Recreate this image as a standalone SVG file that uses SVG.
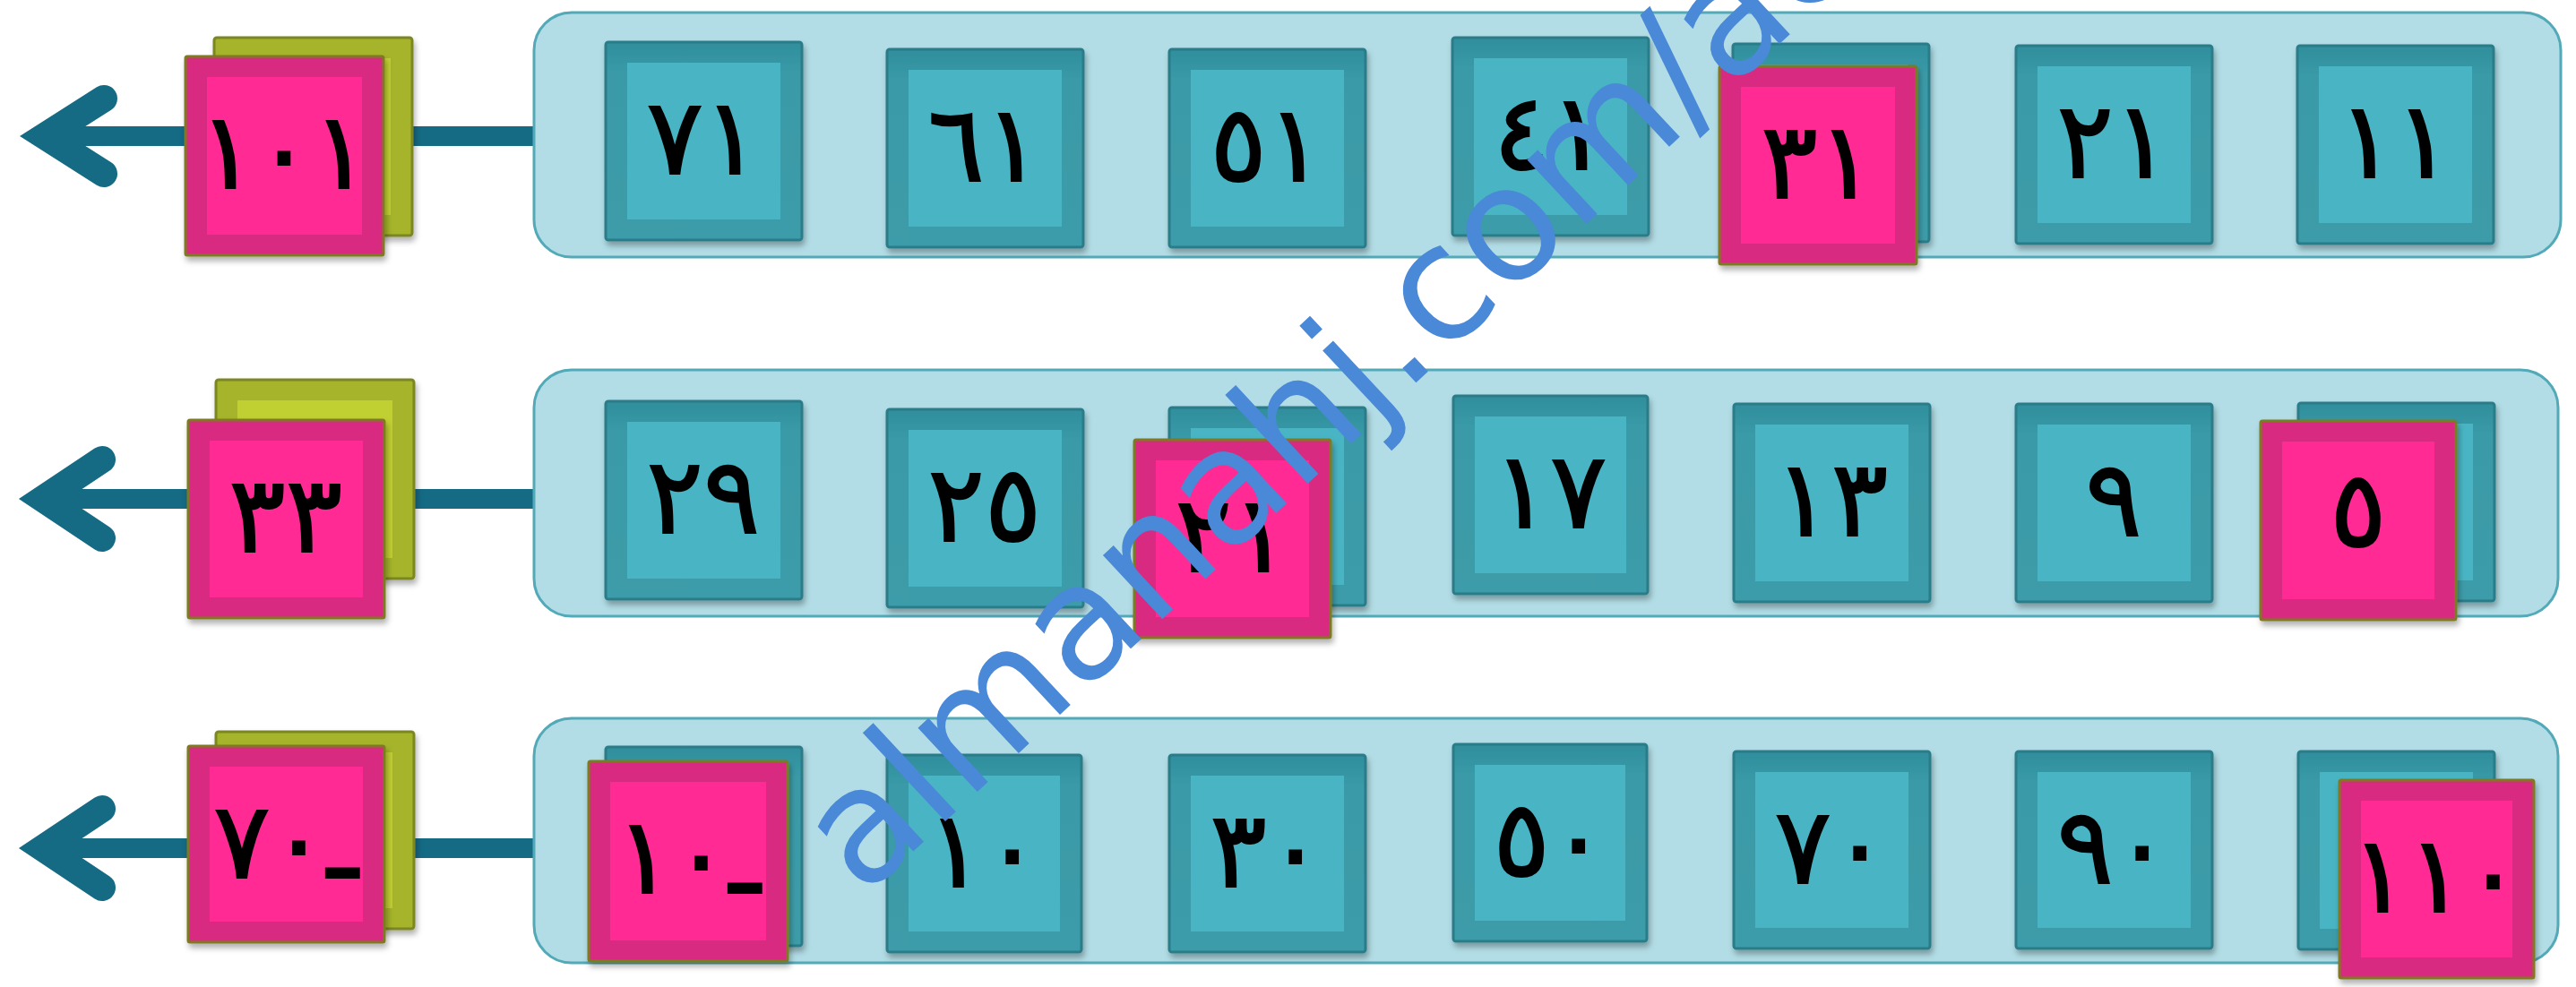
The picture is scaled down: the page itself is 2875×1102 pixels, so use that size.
<svg xmlns="http://www.w3.org/2000/svg" width="2875" height="1102" viewBox="0 0 2875 1102">
<style>
.band{fill:#b2dde6;stroke:#52a9b8;stroke-width:3}
.tf{fill:url(#tg);stroke:#2a7b88;stroke-width:3}
.ti{fill:#48b4c3}
.pf{fill:#d92b81;stroke:#7d7a20;stroke-width:3}
.pi{fill:#ff2c93}
.of{fill:#a5b42b;stroke:#7b8621;stroke-width:3}
.oi{fill:#c0cf30}
.num{font-family:"DejaVu Sans",sans-serif;font-weight:normal;font-size:118px;text-anchor:middle;fill:#000;stroke:#000;stroke-width:2}
.neg{unicode-bidi:bidi-override;direction:ltr}
.line{stroke:#156a84;stroke-width:22;fill:none}
.head{stroke:#156a84;stroke-width:30;fill:none;stroke-linecap:round;stroke-linejoin:miter;stroke-miterlimit:6}
.wm{font-family:"DejaVu Sans",sans-serif;font-size:178px;fill:#4a88d8}
</style>
<defs>
<linearGradient id="tg" x1="0" y1="0" x2="0" y2="1">
<stop offset="0" stop-color="#2f8e9c"/>
<stop offset="0.15" stop-color="#3a9aa7"/>
<stop offset="1" stop-color="#3d9ca9"/>
</linearGradient>
<filter id="sh" x="-10%" y="-10%" width="120%" height="125%">
<feDropShadow dx="2" dy="5" stdDeviation="3" flood-color="#000" flood-opacity="0.3"/>
</filter>
</defs>
<rect width="2875" height="1102" fill="#ffffff"/>
<g id="connectors">
<line class="line" x1="600" y1="152" x2="55" y2="152"/>
<polyline class="head" points="116,110 50,152 116,194"/>
<line class="line" x1="600" y1="557" x2="55" y2="557"/>
<polyline class="head" points="114,513 48,557 114,601"/>
<line class="line" x1="600" y1="947" x2="55" y2="947"/>
<polyline class="head" points="114,903 48,947 114,991"/>
</g>
<g id="band1"><rect class="band" x="596" y="14" width="2262" height="273" rx="42"/></g>
<g id="band2"><rect class="band" x="596" y="413" width="2259" height="275" rx="42"/></g>
<g id="band3"><rect class="band" x="596" y="802" width="2259" height="273" rx="42"/></g>

<!-- Row 1 -->
<g id="r1-71" transform="translate(676,47)" filter="url(#sh)"><rect class="tf" width="219" height="221" rx="3"/><rect class="ti" x="24" y="23" width="171" height="175"/><text class="num" x="109" y="147">٧١</text></g>
<g id="r1-61" transform="translate(990,55)" filter="url(#sh)"><rect class="tf" width="219" height="221" rx="3"/><rect class="ti" x="24" y="23" width="171" height="175"/><text class="num" x="109" y="147">٦١</text></g>
<g id="r1-51" transform="translate(1305,55)" filter="url(#sh)"><rect class="tf" width="219" height="221" rx="3"/><rect class="ti" x="24" y="23" width="171" height="175"/><text class="num" x="109" y="147">٥١</text></g>
<g id="r1-41" transform="translate(1621,42)" filter="url(#sh)"><rect class="tf" width="219" height="221" rx="3"/><rect class="ti" x="24" y="23" width="171" height="175"/><text class="num" x="109" y="147">٤١</text></g>
<g id="r1-31-back" transform="translate(1934,49)" filter="url(#sh)"><rect class="tf" width="219" height="221" rx="3"/><rect class="ti" x="24" y="23" width="171" height="175"/></g>
<g id="r1-31" transform="translate(1919,74)" filter="url(#sh)"><rect class="pf" width="220" height="221" rx="2"/><rect class="pi" x="24" y="23" width="172" height="175"/><text class="num" x="110" y="147">٣١</text></g>
<g id="r1-21" transform="translate(2250,51)" filter="url(#sh)"><rect class="tf" width="219" height="221" rx="3"/><rect class="ti" x="24" y="23" width="171" height="175"/><text class="num" x="109" y="147">٢١</text></g>
<g id="r1-11" transform="translate(2564,51)" filter="url(#sh)"><rect class="tf" width="219" height="221" rx="3"/><rect class="ti" x="24" y="23" width="171" height="175"/><text class="num" x="109" y="147">١١</text></g>
<g id="r1-back" transform="translate(239,42)" filter="url(#sh)"><rect class="of" width="221" height="221" rx="3"/><rect class="oi" x="24" y="23" width="173" height="175"/></g>
<g id="r1-101" transform="translate(207,63)" filter="url(#sh)"><rect class="pf" width="221" height="222" rx="2"/><rect class="pi" x="24" y="23" width="173" height="176"/><text class="num" x="110" y="147">١٠١</text></g>

<!-- Row 2 -->
<g id="r2-29" transform="translate(676,448)" filter="url(#sh)"><rect class="tf" width="219" height="221" rx="3"/><rect class="ti" x="24" y="23" width="171" height="175"/><text class="num" x="109" y="147">٢٩</text></g>
<g id="r2-25" transform="translate(990,457)" filter="url(#sh)"><rect class="tf" width="219" height="221" rx="3"/><rect class="ti" x="24" y="23" width="171" height="175"/><text class="num" x="109" y="147">٢٥</text></g>
<g id="r2-21-back" transform="translate(1305,455)" filter="url(#sh)"><rect class="tf" width="219" height="221" rx="3"/><rect class="ti" x="24" y="23" width="171" height="175"/></g>
<g id="r2-21" transform="translate(1266,491)" filter="url(#sh)"><rect class="pf" width="219" height="221" rx="2"/><rect class="pi" x="24" y="23" width="171" height="175"/><text class="num" x="109" y="147">٢١</text></g>
<g id="r2-17" transform="translate(1622,442)" filter="url(#sh)"><rect class="tf" width="217" height="221" rx="3"/><rect class="ti" x="24" y="23" width="169" height="175"/><text class="num" x="108" y="147">١٧</text></g>
<g id="r2-13" transform="translate(1935,451)" filter="url(#sh)"><rect class="tf" width="219" height="221" rx="3"/><rect class="ti" x="24" y="23" width="171" height="175"/><text class="num" x="109" y="147">١٣</text></g>
<g id="r2-9" transform="translate(2250,451)" filter="url(#sh)"><rect class="tf" width="219" height="221" rx="3"/><rect class="ti" x="24" y="23" width="171" height="175"/><text class="num" x="109" y="147">٩</text></g>
<g id="r2-5-back" transform="translate(2565,450)" filter="url(#sh)"><rect class="tf" width="219" height="221" rx="3"/><rect class="ti" x="24" y="23" width="171" height="175"/></g>
<g id="r2-5" transform="translate(2523,470)" filter="url(#sh)"><rect class="pf" width="218" height="222" rx="2"/><rect class="pi" x="24" y="23" width="170" height="176"/><text class="num" x="109" y="140">٥</text></g>
<g id="r2-back" transform="translate(241,424)" filter="url(#sh)"><rect class="of" width="221" height="222" rx="3"/><rect class="oi" x="24" y="23" width="173" height="176"/></g>
<g id="r2-33" transform="translate(210,469)" filter="url(#sh)"><rect class="pf" width="219" height="221" rx="2"/><rect class="pi" x="24" y="23" width="171" height="175"/><text class="num" x="109" y="147">٣٣</text></g>

<!-- Row 3 -->
<g id="r3-m10-back" transform="translate(676,834)" filter="url(#sh)"><rect class="tf" width="219" height="222" rx="3"/><rect class="ti" x="24" y="23" width="171" height="176"/></g>
<g id="r3-m10" transform="translate(657,850)" filter="url(#sh)"><rect class="pf" width="222" height="223" rx="2"/><rect class="pi" x="24" y="23" width="174" height="177"/><text class="num neg" x="111" y="147">١٠ـ</text></g>
<g id="r3-10" transform="translate(990,843)" filter="url(#sh)"><rect class="tf" width="217" height="220" rx="3"/><rect class="ti" x="24" y="23" width="169" height="174"/><text class="num" x="108" y="147">١٠</text></g>
<g id="r3-30" transform="translate(1305,843)" filter="url(#sh)"><rect class="tf" width="219" height="220" rx="3"/><rect class="ti" x="24" y="23" width="171" height="174"/><text class="num" x="109" y="147">٣٠</text></g>
<g id="r3-50" transform="translate(1622,831)" filter="url(#sh)"><rect class="tf" width="216" height="220" rx="3"/><rect class="ti" x="24" y="23" width="168" height="174"/><text class="num" x="108" y="147">٥٠</text></g>
<g id="r3-70" transform="translate(1935,839)" filter="url(#sh)"><rect class="tf" width="219" height="220" rx="3"/><rect class="ti" x="24" y="23" width="171" height="174"/><text class="num" x="109" y="147">٧٠</text></g>
<g id="r3-90" transform="translate(2250,839)" filter="url(#sh)"><rect class="tf" width="219" height="220" rx="3"/><rect class="ti" x="24" y="23" width="171" height="174"/><text class="num" x="109" y="147">٩٠</text></g>
<g id="r3-110-back" transform="translate(2565,839)" filter="url(#sh)"><rect class="tf" width="219" height="221" rx="3"/><rect class="ti" x="24" y="23" width="171" height="175"/></g>
<g id="r3-110" transform="translate(2611,871)" filter="url(#sh)"><rect class="pf" width="217" height="221" rx="2"/><rect class="pi" x="24" y="23" width="169" height="175"/><text class="num" x="108" y="147">١١٠</text></g>
<g id="r3-back" transform="translate(241,817)" filter="url(#sh)"><rect class="of" width="221" height="220" rx="3"/><rect class="oi" x="24" y="23" width="173" height="174"/></g>
<g id="r3-m70" transform="translate(210,833)" filter="url(#sh)"><rect class="pf" width="219" height="219" rx="2"/><rect class="pi" x="24" y="23" width="171" height="173"/><text class="num neg" x="109" y="147">٧٠ـ</text></g>

<text class="wm" x="963" y="1003" transform="rotate(-43 963 1003)">almanahj.com/ae</text>
</svg>
